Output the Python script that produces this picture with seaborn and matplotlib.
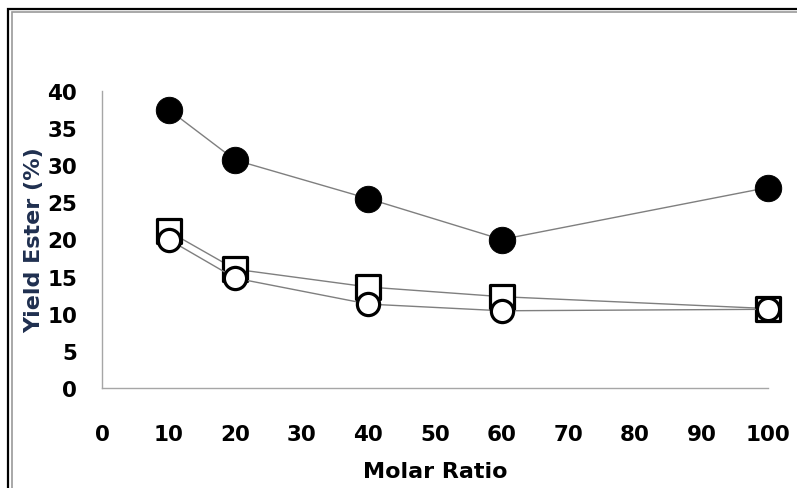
import pandas as pd
import seaborn as sns
import matplotlib.pyplot as plt
from matplotlib.markers import MarkerStyle
from matplotlib.patches import Rectangle

# Data
molar_ratio = [10, 20, 40, 60, 100]
yield_filled = [37.5, 30.7, 25.5, 20.0, 27.0]
yield_square = [21.1, 16.0, 13.6, 12.3, 10.7]
yield_open = [20.0, 14.8, 11.3, 10.4, 10.6]

x_ticks = [0, 10, 20, 30, 40, 50, 60, 70, 80, 90, 100]
y_ticks = [0, 5, 10, 15, 20, 25, 30, 35, 40]

sns.set_style('white')
plt.rcParams['font.family'] = ['DejaVu Sans']
plt.rcParams['font.weight'] = 'bold'

fig = plt.figure(figsize=(7.97, 4.89), dpi=100)
ax = fig.add_axes([102 / 797, 1 - 389 / 489, 666 / 797, 297 / 489])

line_kw = dict(color='#7f7f7f', linewidth=1.0, clip_on=False, ax=ax)

sns.lineplot(x=molar_ratio, y=yield_filled, marker='o', markersize=19,
             markerfacecolor='black', markeredgecolor='black',
             markeredgewidth=0.7, **line_kw)
sns.lineplot(x=molar_ratio, y=yield_square,
             marker=MarkerStyle('s', joinstyle='round'), markersize=17,
             markerfacecolor='white', markeredgecolor='black',
             markeredgewidth=2.3, **line_kw)
sns.lineplot(x=molar_ratio, y=yield_open, marker='o', markersize=16,
             markerfacecolor='white', markeredgecolor='black',
             markeredgewidth=2.3, **line_kw)

ax.set_xlim(0, 100)
ax.set_ylim(0, 40)
ax.set_xticks(x_ticks)
ax.set_yticks(y_ticks)
ax.tick_params(axis='both', length=0, labelsize=15.5, labelcolor='black')
ax.tick_params(axis='x', pad=26)
ax.tick_params(axis='y', pad=18)

for side in ['top', 'right']:
    ax.spines[side].set_visible(False)
for side in ['left', 'bottom']:
    ax.spines[side].set_color('#a6a6a6')
    ax.spines[side].set_linewidth(1.0)

ax.set_xlabel('Molar Ratio', fontsize=16, fontweight='bold', color='black',
              labelpad=12)
ax.set_ylabel('Yield Ester (%)', fontsize=16, fontweight='bold',
              color='#1f2f4f', labelpad=2)

# double frame around the figure (left and top edges visible)
fig.patches.append(Rectangle((8 / 797, -0.05), 1.1, 1 - 10 / 489 + 0.05,
                             transform=fig.transFigure, fill=False,
                             edgecolor='black', linewidth=1.6))
fig.patches.append(Rectangle((12 / 797, -0.05), 1.1, 1 - 13 / 489 + 0.05,
                             transform=fig.transFigure, fill=False,
                             edgecolor='#9a9a9a', linewidth=1.2))

fig.savefig('out.png', dpi=100)
